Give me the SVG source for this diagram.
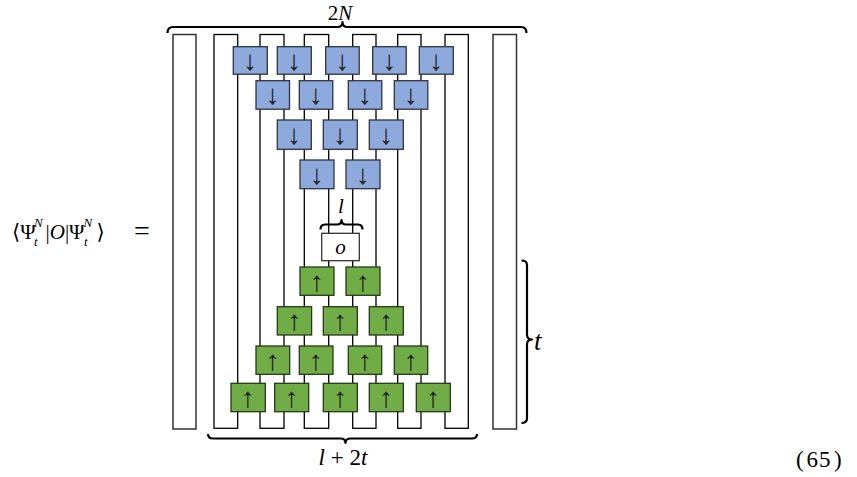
<svg xmlns="http://www.w3.org/2000/svg" width="857" height="477" viewBox="0 0 857 477" font-family="Liberation Serif, DejaVu Serif, serif">
  <style>
    .wire { fill: none; stroke: #000; stroke-width: 1.3; }
    .side { fill: #fff; stroke: #333; stroke-width: 1.5; }
    .down rect { fill: #8eaadc; stroke: #2e3440; stroke-width: 1.3; }
    .up rect { fill: #70ad47; stroke: #263a1a; stroke-width: 1.3; }
    .op rect { fill: #fff; stroke: #333; stroke-width: 1.3; }
    .arrow { font-family: "Liberation Serif", "DejaVu Serif", serif; font-size: 28px; fill: #1a1a1a; text-anchor: middle; }
    .brace { fill: none; stroke: #000; stroke-width: 2.2; stroke-linejoin: round; }
    .math { font-family: "Liberation Serif", "DejaVu Serif", serif; fill: #000; }
    .it { font-style: italic; }
  </style>

  <!-- outer spectator wires -->
  <g id="side-wires">
    <rect class="side" x="173" y="34.5" width="23" height="394.5"/>
    <rect class="side" x="493" y="34.5" width="23.5" height="394.5"/>
  </g>

  <!-- folded wire loops of the circuit -->
  <g id="connectors">
    <rect class="wire" x="214" y="34.5" width="23.7" height="393.8"/>
    <rect class="wire" x="260" y="34.5" width="24" height="393.8"/>
    <rect class="wire" x="304.3" y="34.5" width="24.4" height="393.8"/>
    <rect class="wire" x="352.7" y="34.5" width="23.3" height="393.8"/>
    <rect class="wire" x="397.7" y="34.5" width="23.3" height="393.8"/>
    <rect class="wire" x="445" y="34.5" width="23.3" height="393.8"/>
  </g>

  <!-- conjugated (downward) gate layers -->
  <g id="down-gates" class="down">
    <g id="d1a"><rect x="233.3" y="46.7" width="34" height="27.5"/><text class="arrow" x="250.3" y="69.7">↓</text></g>
    <g id="d1b"><rect x="277.3" y="46.7" width="34" height="27.5"/><text class="arrow" x="294.3" y="69.7">↓</text></g>
    <g id="d1c"><rect x="325.7" y="46.7" width="33.5" height="27.5"/><text class="arrow" x="342.4" y="69.7">↓</text></g>
    <g id="d1d"><rect x="372.7" y="46.7" width="33.5" height="27.5"/><text class="arrow" x="389.4" y="69.7">↓</text></g>
    <g id="d1e"><rect x="419.3" y="46.7" width="34" height="27.5"/><text class="arrow" x="436.3" y="69.7">↓</text></g>

    <g id="d2a"><rect x="256" y="80.7" width="33.5" height="28.5"/><text class="arrow" x="272.7" y="104.2">↓</text></g>
    <g id="d2b"><rect x="299.3" y="80.7" width="33.5" height="28.5"/><text class="arrow" x="316" y="104.2">↓</text></g>
    <g id="d2c"><rect x="348.3" y="80.7" width="33.5" height="28.5"/><text class="arrow" x="365" y="104.2">↓</text></g>
    <g id="d2d"><rect x="394.3" y="80.7" width="33.5" height="28.5"/><text class="arrow" x="411" y="104.2">↓</text></g>

    <g id="d3a"><rect x="277.3" y="120" width="34" height="29.3"/><text class="arrow" x="294.3" y="144">↓</text></g>
    <g id="d3b"><rect x="323.3" y="120" width="34" height="29.3"/><text class="arrow" x="340.3" y="144">↓</text></g>
    <g id="d3c"><rect x="369.3" y="120" width="34" height="29.3"/><text class="arrow" x="386.3" y="144">↓</text></g>

    <g id="d4a"><rect x="300" y="160" width="34" height="28.7"/><text class="arrow" x="317" y="183.7">↓</text></g>
    <g id="d4b"><rect x="346" y="160" width="34" height="28.7"/><text class="arrow" x="363" y="183.7">↓</text></g>
  </g>

  <!-- local operator -->
  <g id="operator" class="op">
    <rect x="321.7" y="233.3" width="37.6" height="27.4"/>
    <text class="math it" x="340.5" y="253.5" font-size="21" text-anchor="middle">o</text>
  </g>

  <!-- forward (upward) gate layers -->
  <g id="up-gates" class="up">
    <g id="u1a"><rect x="300" y="267" width="34" height="28.3"/><text class="arrow" x="317" y="290.5">↑</text></g>
    <g id="u1b"><rect x="346" y="267" width="34" height="28.3"/><text class="arrow" x="363" y="290.5">↑</text></g>

    <g id="u2a"><rect x="277.3" y="306.7" width="34.3" height="28.3"/><text class="arrow" x="294.4" y="330.2">↑</text></g>
    <g id="u2b"><rect x="323.3" y="306.7" width="34" height="28.3"/><text class="arrow" x="340.3" y="330.2">↑</text></g>
    <g id="u2c"><rect x="369.3" y="306.7" width="34" height="28.3"/><text class="arrow" x="386.3" y="330.2">↑</text></g>

    <g id="u3a"><rect x="256" y="346" width="33.7" height="28.3"/><text class="arrow" x="272.8" y="369.5">↑</text></g>
    <g id="u3b"><rect x="299.3" y="346" width="33.7" height="28.3"/><text class="arrow" x="316.1" y="369.5">↑</text></g>
    <g id="u3c"><rect x="348.3" y="346" width="33.4" height="28.3"/><text class="arrow" x="365" y="369.5">↑</text></g>
    <g id="u3d"><rect x="394.3" y="346" width="33.4" height="28.3"/><text class="arrow" x="411" y="369.5">↑</text></g>

    <g id="u4a"><rect x="231" y="383.3" width="34.3" height="28.4"/><text class="arrow" x="248.1" y="406.8">↑</text></g>
    <g id="u4b"><rect x="274.7" y="383.3" width="34" height="28.4"/><text class="arrow" x="291.7" y="406.8">↑</text></g>
    <g id="u4c"><rect x="323.3" y="383.3" width="34" height="28.4"/><text class="arrow" x="340.3" y="406.8">↑</text></g>
    <g id="u4d"><rect x="369.3" y="383.3" width="34" height="28.4"/><text class="arrow" x="386.3" y="406.8">↑</text></g>
    <g id="u4e"><rect x="416.3" y="383.3" width="34" height="28.4"/><text class="arrow" x="433.3" y="406.8">↑</text></g>
  </g>

  <!-- braces with their extents -->
  <g id="brace-top">
    <path class="brace" d="M167.5,33 Q167.5,27 173,27 H337.5 Q342.5,27 342.5,22 Q342.5,27 347.5,27 H521 Q526.5,27 526.5,33"/>
    <text class="math" x="340" y="19.5" font-size="21" text-anchor="middle">2<tspan class="it">N</tspan></text>
  </g>
  <g id="brace-op">
    <path class="brace" d="M320.5,229.5 Q320.5,224.5 325,224.5 H337 Q341.5,224.5 341.5,220 Q341.5,224.5 346,224.5 H358 Q362.5,224.5 362.5,229.5"/>
    <text class="math it" x="341" y="212.5" font-size="21" text-anchor="middle">l</text>
  </g>
  <g id="brace-bottom">
    <path class="brace" d="M208,434 Q208,438.5 213,438.5 H340.5 Q345.5,438.5 345.5,443 Q345.5,438.5 350.5,438.5 H472 Q477,438.5 477,434"/>
    <text class="math" x="343" y="465" font-size="23" text-anchor="middle"><tspan class="it">l</tspan> + 2<tspan class="it">t</tspan></text>
  </g>
  <g id="brace-right">
    <path class="brace" d="M521.5,260.5 Q527,260.5 527,265 V334.5 Q527,339.5 532,339.5 Q527,339.5 527,344.5 V418 Q527,423 521.5,423"/>
    <text class="math it" x="534" y="350" font-size="27">t</text>
  </g>

  <!-- left-hand side of the equation -->
  <g id="lhs" class="math" font-size="21">
    <text x="12" y="238.5">⟨Ψ</text>
    <text x="34" y="226.5" font-size="13" class="it">N</text>
    <text x="34" y="246" font-size="13" class="it">t</text>
    <text x="45.5" y="238.5">|<tspan class="it">O</tspan>|Ψ</text>
    <text x="83.5" y="226.5" font-size="13" class="it">N</text>
    <text x="84" y="246" font-size="13" class="it">t</text>
    <text x="96.5" y="238.5">⟩</text>
    <text x="134" y="239.5" font-size="28">=</text>
  </g>

  <!-- equation number -->
  <text id="eqno" class="math" y="467" font-size="23"><tspan x="796">(</tspan><tspan x="806.5">6</tspan><tspan x="819">5</tspan><tspan x="834">)</tspan></text>
</svg>
